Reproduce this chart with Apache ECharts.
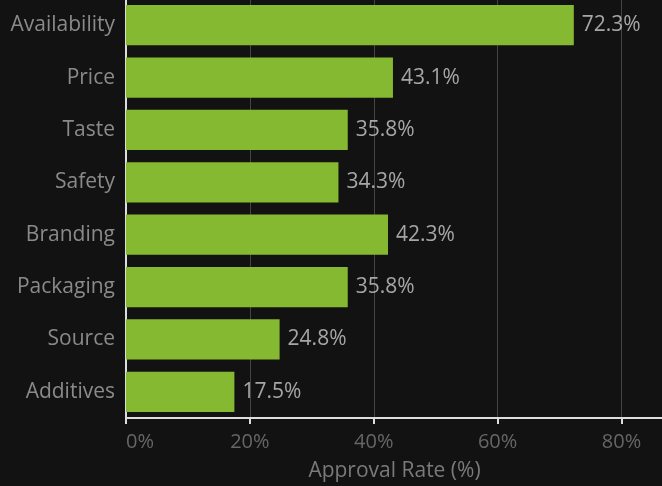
<!DOCTYPE html>
<html>
<head>
<meta charset="utf-8">
<script src="https://cdn.jsdelivr.net/npm/echarts@6/dist/echarts.min.js"></script>
<style>
  html, body { margin: 0; padding: 0; background: #121212; }
  #chart { width: 662px; height: 486px; }
</style>
</head>
<body>
<div id="chart"></div>
<script>
// 数据
var categories = ['Availability', 'Price', 'Taste', 'Safety', 'Branding', 'Packaging', 'Source', 'Additives'];
var approval = [72.3, 43.1, 35.8, 34.3, 42.3, 35.8, 24.8, 17.5];

var myChart = echarts.init(document.getElementById('chart'));
var option = {
    backgroundColor: '#121212',
    textStyle: { fontFamily: 'Open Sans' },
    grid: {
        left: 126,
        right: -1,
        top: -1,
        bottom: 68,
        outerBoundsMode: 'none'
    },
    xAxis: {
        type: 'value',
        min: 0,
        max: 86.7,
        interval: 20,
        name: 'Approval Rate (%)',
        nameLocation: 'middle',
        nameGap: 43,
        nameTextStyle: { color: '#7a7a7a', fontSize: 21 },
        axisLine: { show: true, lineStyle: { color: '#dddddd', width: 2 } },
        axisTick: { show: true, length: 6, lineStyle: { color: '#dddddd', width: 2 } },
        axisLabel: {
            color: '#666666',
            fontSize: 20,
            margin: 14,
            showMaxLabel: false,
            alignMinLabel: 'left',
            formatter: function (v) { return v + '%'; }
        },
        splitLine: { show: true, lineStyle: { color: '#444444', width: 1 } }
    },
    yAxis: {
        type: 'category',
        data: categories,
        inverse: true,
        axisLine: { show: true, lineStyle: { color: '#dddddd', width: 2 } },
        axisTick: { show: false },
        axisLabel: { color: '#8a8a8a', fontSize: 21, margin: 11 },
        splitLine: { show: false }
    },
    series: [
        {
            type: 'bar',
            data: approval,
            barCategoryGap: '23%',
            itemStyle: { color: '#86b932' },
            label: {
                show: true,
                position: 'right',
                distance: 8,
                color: '#a6a6a6',
                fontSize: 21,
                formatter: function (p) { return p.value.toFixed(1) + '%'; }
            }
        }
    ]
};
myChart.setOption(option);
</script>
</body>
</html>
